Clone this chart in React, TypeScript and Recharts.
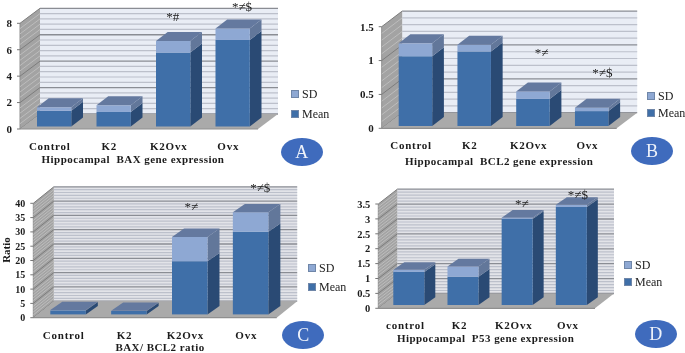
import { BarChart, Bar, XAxis, YAxis, Legend, ReferenceArea, ReferenceLine, ReferenceDot } from "recharts";

const categories = ["Control", "K2", "K2Ovx", "Ovx"];
const categoriesLower = ["control", "K2", "K2Ovx", "Ovx"];

const baxMean = [1.2, 1.1, 5.6, 6.55];
const baxSd = [0.25, 0.5, 0.87, 0.87];
const baxTicks = [0, 2, 4, 6, 8];
const baxMarks = ["", "", "*#", "*≠$"];
const baxMarkValues = [0, 0, 8.48, 9.2];

const bcl2Mean = [1.03, 1.1, 0.4, 0.22];
const bcl2Sd = [0.19, 0.1, 0.11, 0.05];
const bcl2Ticks = [0, 0.5, 1, 1.5];
const bcl2Marks = ["", "", "*≠", "*≠$"];
const bcl2MarkValues = [0, 0, 1.11, 0.81];

const ratioMean = [1.4, 1.2, 18.6, 28.9];
const ratioSd = [0.1, 0.1, 8.5, 6.8];
const ratioTicks = [0, 5, 10, 15, 20, 25, 30, 35, 40];
const ratioMarks = ["", "", "*≠", "*≠$"];
const ratioMarkValues = [0, 0, 38.6, 45.2];

const p53Mean = [1.11, 0.95, 2.89, 3.29];
const p53Sd = [0.07, 0.34, 0.04, 0.07];
const p53Ticks = [0, 0.5, 1, 1.5, 2, 2.5, 3, 3.5];
const p53Marks = ["", "", "*≠", "*≠$"];
const p53MarkValues = [0, 0, 3.49, 3.8];

const FONT = "'Liberation Serif', 'Times New Roman', serif";
const MEAN_FRONT = "#3f6fa8";
const MEAN_SIDE = "#2a4a74";
const SD_FRONT = "#8ea8d3";
const SD_SIDE = "#62779a";
const TOP_FACE = "#64799f";

function range(max: number, step: number) {
  const out: number[] = [];
  const n = Math.round(max / step);
  for (let i = 0; i <= n; i++) out.push(Number((i * step).toFixed(3)));
  return out;
}

function Box3d(props: any) {
  const { x, y, width, height, dx, dy, ox, oy, front, side, top } = props;
  if (!width || height == null) return null;
  const l = x + ox;
  const r = l + width;
  const t = y + oy;
  const b = t + height;
  return (
    <g>
      <polygon points={`${r},${b} ${r + dx},${b - dy} ${r + dx},${t - dy} ${r},${t}`} fill={side} />
      <rect x={l} y={t} width={width} height={height} fill={front} />
      {top && (
        <polygon points={`${l},${t} ${l + dx},${t - dy} ${r + dx},${t - dy} ${r},${t}`} fill={TOP_FACE} />
      )}
    </g>
  );
}

function Walls(props: any) {
  const { x, y, width, height, dx, dy, wall } = props;
  const l = x;
  const t = y;
  const b = y + height;
  return (
    <g>
      <rect x={l + dx} y={t - dy} width={width} height={height} fill={wall} />
      <polygon points={`${l},${t} ${l + dx},${t - dy} ${l + dx},${b - dy} ${l},${b}`} fill="#a3a3a3" />
      <line x1={l} y1={t} x2={l} y2={b} stroke="#8f8f8f" strokeWidth={1} />
    </g>
  );
}

function Floor(props: any) {
  const { x, y, width, height, dx, dy } = props;
  const l = x;
  const r = x + width;
  const b = y + height;
  return (
    <g>
      <polygon points={`${l},${b} ${l + dx},${b - dy} ${r + dx},${b - dy} ${r},${b}`} fill="#aaaaaa" />
      <line x1={l} y1={b} x2={r} y2={b} stroke="#8f8f8f" strokeWidth={1.2} />
    </g>
  );
}

function WallLine(props: any) {
  const { x1, y1, x2, dx, dy, major } = props;
  const stroke = major ? "#8a8d94" : "#bcc0cb";
  const slant = major ? "#7d7d7d" : "#bdbdbd";
  return (
    <g>
      <line x1={x1} y1={y1} x2={x1 + dx} y2={y1 - dy} stroke={slant} strokeWidth={1} />
      <line x1={x1 + dx} y1={y1 - dy} x2={x2 + dx} y2={y1 - dy} stroke={stroke} strokeWidth={major ? 1.3 : 1.2} />
    </g>
  );
}

function LegendBox({ payload, gap }: any) {
  const items = [...(payload || [])].reverse();
  return (
    <div style={{ fontFamily: FONT, fontSize: 12, color: "#222", lineHeight: "14px" }}>
      {items.map((it: any) => (
        <div key={it.value} style={{ display: "flex", alignItems: "center", height: gap, whiteSpace: "nowrap" }}>
          <span style={{ width: 6, height: 6, marginRight: 3, background: it.color, border: "0.5px solid #6f86a8", flex: "none" }} />
          {it.value}
        </div>
      ))}
    </div>
  );
}

interface PanelProps {
  left: number;
  top: number;
  w: number;
  h: number;
  plot: { l: number; r: number; t: number; b: number };
  depth: [number, number];
  barW: number;
  bar3d: { dx: number; dy: number; ox: number; oy: number };
  labels: string[];
  mean: number[];
  sd: number[];
  ticks: number[];
  max: number;
  minor: number;
  marks: string[];
  markValues: number[];
  markDx: number[];
  title: string;
  wall: string;
  tickSize: number;
  legend: { x: number; y: number; gap: number };
  titleOffset: number;
  titleDx: number;
}

function Panel(p: PanelProps) {
  const data = p.labels.map((name, i) => ({ name, mean: p.mean[i], sd: p.sd[i], mark: p.marks[i], markValue: p.markValues[i], markDx: p.markDx[i] }));
  const [dx, dy] = p.depth;
  const xH = 42;
  const tickStyle = { fill: "#1c1c1c", fontFamily: FONT, fontWeight: 700 };
  return (
    <div style={{ position: "absolute", left: p.left, top: p.top }}>
      <BarChart
        width={p.w}
        height={p.h}
        data={data}
        barSize={p.barW}
        margin={{ top: p.plot.t - p.top, left: 0, right: p.left + p.w - p.plot.r, bottom: p.top + p.h - p.plot.b - xH }}
      >
        <XAxis
          dataKey="name"
          height={xH}
          axisLine={false}
          tickLine={false}
          interval={0}
          tickMargin={7}
          tick={{ ...tickStyle, fontSize: 11, letterSpacing: 0.75 }}
          label={{ value: p.title, position: "insideBottom", offset: p.titleOffset, dx: p.titleDx, style: { fontFamily: FONT, fontWeight: 700, fontSize: 11, letterSpacing: 0.45, fill: "#1c1c1c" } }}
        />
        <YAxis
          width={p.plot.l - p.left}
          domain={[0, p.max]}
          ticks={p.ticks}
          interval={0}
          axisLine={false}
          tickSize={3}
          tickMargin={5}
          tickLine={{ stroke: "#777" }}
          tick={{ ...tickStyle, fontSize: p.tickSize }}
        />
        <ReferenceArea y1={0} y2={p.max} zIndex={110} shape={(s: any) => <Walls {...s} dx={dx} dy={dy} wall={p.wall} />} />
        {range(p.max, p.minor).map((v) => (
          <ReferenceLine
            key={v}
            y={v}
            zIndex={120}
            shape={(s: any) => <WallLine {...s} dx={dx} dy={dy} major={p.ticks.includes(v)} />}
          />
        ))}
        <ReferenceArea y1={0} y2={p.max} zIndex={130} shape={(s: any) => <Floor {...s} dx={dx} dy={dy} />} />
        <Bar
          dataKey="mean"
          name="Mean"
          stackId="s"
          fill={MEAN_FRONT}
          isAnimationActive={false}
          shape={(s: any) => <Box3d {...s} {...p.bar3d} front={MEAN_FRONT} side={MEAN_SIDE} />}
        />
        <Bar
          dataKey="sd"
          name="SD"
          stackId="s"
          fill={SD_FRONT}
          isAnimationActive={false}
          shape={(s: any) => <Box3d {...s} {...p.bar3d} front={SD_FRONT} side={SD_SIDE} top />}
        />
        {data.filter((d) => d.mark).map((d) => (
          <ReferenceDot
            key={d.name}
            x={d.name}
            y={d.markValue}
            ifOverflow="visible"
            shape={(s: any) => (
              <text x={s.cx + d.markDx} y={s.cy + 4} textAnchor="middle" fontFamily={FONT} fontSize={13} fill="#1c1c1c">
                {d.mark}
              </text>
            )}
          />
        ))}
        <Legend
          layout="vertical"
          align="center"
          verticalAlign="middle"
          wrapperStyle={{ left: p.legend.x - p.left, top: p.legend.y - p.top, width: 50 }}
          content={(c: any) => <LegendBox {...c} gap={p.legend.gap} />}
        />
      </BarChart>
    </div>
  );
}

function Oval({ cx, cy, label }: { cx: number; cy: number; label: string }) {
  return (
    <div
      style={{
        position: "absolute",
        left: cx - 21,
        top: cy - 14,
        width: 42,
        height: 28,
        borderRadius: "50%",
        background: "#3f6bbd",
        color: "#eef2fa",
        fontFamily: FONT,
        fontSize: 18,
        lineHeight: "28px",
        textAlign: "center",
      }}
    >
      {label}
    </div>
  );
}

export default function App() {
  return (
    <div style={{ position: "absolute", left: 0, top: 0, width: 685, height: 353, background: "#fff", overflow: "hidden", filter: "blur(0.4px)" }}>
      <Panel
        left={0} top={0} w={340} h={175}
        plot={{ l: 20, r: 258, t: 23.3, b: 129 }}
        depth={[20, 15]}
        barW={34.3}
        bar3d={{ dx: 11.7, dy: 9, ox: 4, oy: -2.5 }}
        labels={categories} mean={baxMean} sd={baxSd} ticks={baxTicks} max={8} minor={0.4}
        marks={baxMarks} markValues={baxMarkValues} markDx={[0, 0, 4, 13.7]}
        title={"Hippocampal\u00a0\u00a0BAX gene expression"}
        wall="#e9edf5" tickSize={11}
        legend={{ x: 291, y: 84, gap: 20 }}
        titleOffset={8} titleDx={-6}
      />
      <Panel
        left={340} top={0} w={345} h={175}
        plot={{ l: 381.7, r: 616.7, t: 26.7, b: 128.3 }}
        depth={[20.5, 15.6]}
        barW={33.5}
        bar3d={{ dx: 11.7, dy: 9, ox: 4, oy: -2.3 }}
        labels={categories} mean={bcl2Mean} sd={bcl2Sd} ticks={bcl2Ticks} max={1.5} minor={0.1}
        marks={bcl2Marks} markValues={bcl2MarkValues} markDx={[0, 0, 13, 15]}
        title={"Hippocampal\u00a0\u00a0BCL2 gene expression"}
        wall="#e9edf5" tickSize={11}
        legend={{ x: 647, y: 88, gap: 16.5 }}
        titleOffset={5} titleDx={0}
      />
      <Panel
        left={0} top={175} w={340} h={186}
        plot={{ l: 33.3, r: 276.7, t: 203.3, b: 317.7 }}
        depth={[20.5, 16.5]}
        barW={35.5}
        bar3d={{ dx: 12, dy: 8.3, ox: 4, oy: -3.3 }}
        labels={categories} mean={ratioMean} sd={ratioSd} ticks={ratioTicks} max={40} minor={1}
        marks={ratioMarks} markValues={ratioMarkValues} markDx={[0, 0, 6, 14]}
        title="BAX/ BCL2 ratio"
        wall="#e2e3e8" tickSize={10}
        legend={{ x: 308, y: 258, gap: 19.5 }}
        titleOffset={9} titleDx={5}
      />
      <Panel
        left={340} top={175} w={345} h={178}
        plot={{ l: 378.3, r: 595, t: 204, b: 308.3 }}
        depth={[19, 14.8]}
        barW={31}
        bar3d={{ dx: 11, dy: 7.7, ox: 3, oy: -3.3 }}
        labels={categoriesLower} mean={p53Mean} sd={p53Sd} ticks={p53Ticks} max={3.5} minor={0.1}
        marks={p53Marks} markValues={p53MarkValues} markDx={[0, 0, 8, 10]}
        title={"Hippocampal\u00a0\u00a0P53 gene expression"}
        wall="#e2e3e8" tickSize={10.5}
        legend={{ x: 624, y: 256, gap: 17 }}
        titleOffset={8} titleDx={-1}
      />
      <Oval cx={301.7} cy={151.7} label="A" />
      <Oval cx={652} cy={150.7} label="B" />
      <Oval cx={303.3} cy={335} label="C" />
      <Oval cx={655.7} cy={334.3} label="D" />
      <div
        style={{
          position: "absolute",
          left: 6,
          top: 250,
          fontFamily: FONT,
          fontWeight: 700,
          fontSize: 11,
          color: "#1c1c1c",
          transform: "translate(-50%, -50%) rotate(-90deg)",
        }}
      >
        Ratio
      </div>
    </div>
  );
}
